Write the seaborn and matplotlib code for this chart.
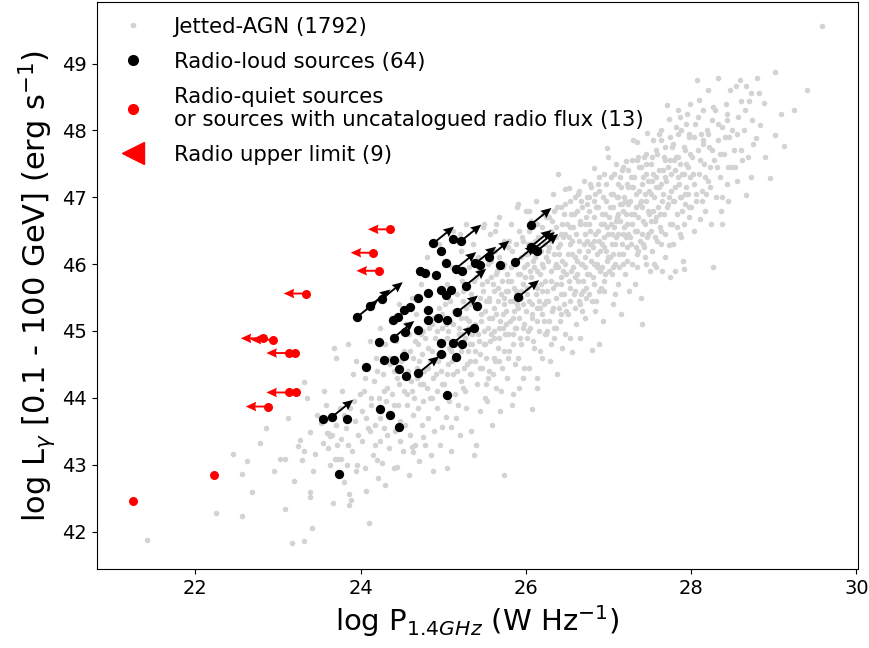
import numpy as np
import pandas as pd
import matplotlib
matplotlib.use("Agg")
import matplotlib.pyplot as plt
from matplotlib.lines import Line2D
import seaborn as sns

# jetted-AGN parent sample (log P_1.4GHz, log L_gamma): outskirts
jetted_pts = [
    (21.42, 41.88), (22.25, 42.28), (22.45, 43.16), (22.56, 42.86), (22.63, 43.05), (22.69, 42.59),
    (22.56, 42.24), (22.86, 43.55), (22.95, 42.9), (22.78, 43.32),
    (23.02, 43.09), (23.08, 43.09), (23.08, 42.34), (23.27, 43.37), (23.24, 43.28), (23.32, 43.21),
    (23.45, 43.16), (23.29, 43.07), (23.43, 42.91), (23.39, 42.59), (23.39, 42.52), (23.41, 42.06),
    (23.17, 41.83), (23.31, 41.86), (23.39, 43.49), (23.31, 44.23), (23.12, 43.7), (23.2, 42.75),
    (23.47, 43.75), (23.35, 44.0),
    (23.55, 43.33), (23.59, 43.47), (23.63, 43.43), (23.76, 43.39), (23.72, 43.29), (23.76, 43.09),
    (23.69, 43.09), (23.8, 42.74), (23.63, 43.0), (23.67, 42.43), (23.86, 42.56), (23.88, 42.47),
    (23.86, 42.4), (23.73, 43.09), (23.61, 43.48), (23.65, 43.44), (23.52, 43.62), (23.58, 43.9),
    (23.6, 43.25), (23.78, 44.1), (23.82, 43.55), (23.84, 43.0), (23.87, 43.85), (23.9, 43.2),
    (23.91, 44.35), (23.93, 43.65), (23.95, 42.9), (23.97, 43.45), (23.99, 44.05), (23.7, 44.6),
    (23.85, 44.8), (23.94, 44.55), (23.68, 44.75), (23.8, 43.75), (23.56, 44.1),
    (24.02, 43.35), (24.04, 44.1), (24.05, 42.95), (24.06, 42.6), (24.07, 43.7), (24.08, 44.45),
    (24.1, 42.13), (24.11, 43.5), (24.12, 44.85), (24.13, 43.9), (24.15, 43.15), (24.16, 44.25),
    (24.18, 43.6), (24.19, 44.6), (24.2, 43.07), (24.21, 42.8), (24.22, 44.0), (24.23, 43.35),
    (24.24, 45.05), (24.25, 43.8),
    (24.26, 43.03), (24.27, 44.35), (24.28, 43.55), (24.29, 44.8), (24.3, 42.7), (24.31, 43.95),
    (24.32, 44.15), (24.34, 43.25), (24.35, 44.6), (24.36, 43.75), (24.37, 45.15), (24.38, 44.05),
    (24.4, 42.95), (24.41, 44.4), (24.42, 43.5), (24.43, 44.85), (24.44, 42.96), (24.45, 43.9),
    (24.46, 44.2), (24.47, 45.4), (24.48, 43.65), (24.49, 44.55),
    (24.51, 43.2), (24.52, 44.1), (24.53, 44.7), (24.54, 43.6), (24.55, 45.1), (24.56, 43.9),
    (24.57, 44.4), (24.58, 42.85), (24.59, 44.95), (24.6, 43.45), (24.61, 44.25), (24.62, 45.5),
    (24.63, 43.75), (24.64, 44.6), (24.65, 44.0), (24.66, 43.3), (24.67, 45.25), (24.68, 44.45),
    (24.69, 43.85), (24.7, 44.8), (24.71, 43.05), (24.72, 44.2), (24.73, 45.7), (24.74, 43.6),
    (24.74, 44.65), (24.75, 45.0), (24.62, 43.27), (24.64, 43.19),
    (24.76, 43.95), (24.77, 44.4), (24.78, 43.3), (24.79, 45.3), (24.8, 44.15), (24.81, 44.75),
    (24.82, 43.7), (24.83, 45.55), (24.84, 44.55), (24.85, 43.14), (24.86, 44.0), (24.87, 45.1),
    (24.88, 44.3), (24.89, 43.5), (24.9, 44.9), (24.91, 45.8), (24.92, 44.1), (24.93, 43.85),
    (24.94, 44.65), (24.95, 45.35), (24.96, 43.3), (24.97, 44.4), (24.98, 45.05), (24.99, 43.57),
    (25.0, 44.8), (24.8, 46.1), (24.95, 46.3), (24.88, 42.9), (24.76, 43.42),
    (25.01, 44.2), (25.02, 45.4), (25.03, 43.72), (25.04, 44.9), (25.05, 45.7), (25.06, 44.5),
    (25.07, 43.95), (25.08, 45.15), (25.09, 44.7), (25.1, 43.2), (25.11, 45.95), (25.12, 44.35),
    (25.13, 45.3), (25.14, 44.05), (25.15, 44.85), (25.16, 43.7), (25.17, 45.55), (25.18, 44.6),
    (25.19, 45.05), (25.2, 43.45), (25.21, 44.25), (25.22, 46.2), (25.23, 44.95), (25.24, 45.45),
    (25.25, 44.45), (25.05, 42.95), (25.12, 46.5), (25.18, 43.9), (25.23, 45.75), (25.09, 43.57),
    (25.2, 46.45),
    (25.26, 44.1), (25.27, 45.2), (25.28, 43.85), (25.29, 45.65), (25.3, 44.7), (25.31, 45.95),
    (25.32, 44.35), (25.33, 45.4), (25.34, 43.5), (25.35, 44.95), (25.36, 46.3), (25.37, 43.14),
    (25.38, 45.1), (25.39, 44.55), (25.4, 45.8), (25.41, 44.2), (25.42, 46.1), (25.43, 44.85),
    (25.44, 45.5), (25.45, 43.8), (25.46, 45.25), (25.47, 44.45), (25.48, 46.55), (25.49, 45.0),
    (25.5, 44.0), (25.3, 45.05), (25.35, 44.8), (25.44, 44.65), (25.28, 46.6), (25.4, 43.3),
    (25.47, 45.7), (25.33, 44.55), (25.49, 46.6),
    (25.51, 44.8), (25.52, 45.45), (25.53, 43.95), (25.54, 46.0), (25.55, 44.4), (25.56, 45.2),
    (25.57, 46.45), (25.58, 44.95), (25.59, 43.6), (25.6, 45.7), (25.61, 44.6), (25.62, 45.35),
    (25.63, 46.2), (25.64, 44.15), (25.65, 45.9), (25.66, 44.75), (25.67, 45.05), (25.68, 46.7),
    (25.69, 43.8), (25.7, 45.55), (25.71, 44.45), (25.72, 45.25), (25.73, 42.84), (25.74, 46.35),
    (25.75, 44.95), (25.52, 44.2), (25.58, 45.8), (25.62, 44.9), (25.66, 45.65), (25.7, 44.1),
    (25.74, 45.4), (25.56, 45.5), (25.64, 46.6), (25.68, 44.55), (25.6, 44.35), (25.72, 45.95),
    (25.63, 46.5),
    (25.76, 45.1), (25.77, 44.3), (25.78, 45.75), (25.79, 46.25), (25.8, 44.7), (25.81, 45.45),
    (25.82, 46.6), (25.83, 43.9), (25.84, 45.2), (25.85, 44.95), (25.86, 46.0), (25.87, 44.5),
    (25.88, 45.6), (25.89, 46.85), (25.9, 45.35), (25.91, 46.9), (25.92, 44.15), (25.93, 45.85),
    (25.94, 44.8), (25.95, 46.4), (25.96, 45.05), (25.97, 45.7), (25.98, 44.45), (25.99, 46.15),
    (26.0, 46.8), (25.78, 44.6), (25.82, 45.95), (25.86, 45.3), (25.9, 44.6), (25.94, 45.5),
    (25.98, 45.95), (25.8, 46.35), (25.84, 44.05), (25.88, 45.05), (25.92, 46.5), (25.96, 44.3),
    (25.76, 45.6), (26.0, 45.3),
    (26.01, 44.9), (26.02, 45.55), (26.03, 46.3), (26.04, 44.45), (26.05, 45.9), (26.06, 46.65),
    (26.07, 45.2), (26.08, 43.83), (26.09, 46.05), (26.1, 44.75), (26.11, 45.7), (26.12, 46.95),
    (26.13, 45.35), (26.14, 44.3), (26.15, 46.4), (26.16, 45.0), (26.17, 45.85), (26.18, 46.2),
    (26.19, 44.6), (26.2, 45.6), (26.21, 46.75), (26.22, 45.15), (26.23, 44.95), (26.24, 46.1),
    (26.25, 45.45), (26.02, 46.0), (26.05, 45.05), (26.08, 45.4), (26.11, 46.35), (26.14, 45.65),
    (26.17, 44.7), (26.2, 46.0), (26.23, 45.75), (26.04, 46.8), (26.1, 45.95), (26.16, 45.45),
    (26.22, 46.45), (26.13, 44.15), (26.19, 45.25), (26.07, 46.2),
    (26.26, 45.0), (26.27, 46.05), (26.28, 46.7), (26.29, 44.55), (26.3, 45.75), (26.31, 46.35),
    (26.32, 45.3), (26.33, 47.05), (26.34, 44.9), (26.35, 45.95), (26.36, 46.55), (26.37, 45.5),
    (26.38, 44.35), (26.39, 47.35), (26.4, 46.15), (26.41, 45.15), (26.42, 46.85), (26.43, 45.7),
    (26.44, 44.75), (26.45, 46.4), (26.46, 45.4), (26.47, 46.0), (26.48, 47.13), (26.49, 45.85),
    (26.5, 46.6), (26.27, 45.45), (26.3, 46.5), (26.33, 45.65), (26.36, 45.05), (26.39, 46.25),
    (26.42, 45.55), (26.45, 45.9), (26.48, 44.95), (26.28, 46.25), (26.34, 46.8), (26.4, 45.35),
    (26.46, 46.75), (26.31, 44.8), (26.37, 46.0), (26.43, 46.45),
    (26.51, 45.25), (26.52, 47.14), (26.53, 46.3), (26.54, 44.9), (26.55, 45.9), (26.56, 44.69),
    (26.57, 46.55), (26.58, 45.55), (26.59, 47.0), (26.6, 46.1), (26.61, 45.1), (26.62, 46.8),
    (26.63, 45.75), (26.64, 46.35), (26.65, 45.4), (26.66, 44.89), (26.67, 46.95), (26.68, 46.0),
    (26.69, 45.6), (26.7, 47.25), (26.71, 46.45), (26.72, 45.2), (26.73, 46.7), (26.74, 45.85),
    (26.75, 46.2), (26.53, 45.65), (26.56, 46.15), (26.59, 45.35), (26.62, 46.05), (26.65, 46.6),
    (26.68, 45.3), (26.71, 45.95), (26.74, 46.9), (26.55, 46.75), (26.6, 45.8), (26.64, 47.1),
    (26.7, 46.3), (26.52, 46.4), (26.67, 45.55), (26.73, 45.5),
    (26.76, 45.55), (26.77, 46.6), (26.78, 47.2), (26.79, 46.05), (26.8, 44.72), (26.81, 45.8),
    (26.82, 47.43), (26.83, 46.35), (26.84, 45.3), (26.85, 46.85), (26.86, 45.95), (26.87, 46.5),
    (26.88, 44.8), (26.89, 47.1), (26.9, 46.2), (26.91, 45.65), (26.92, 46.75), (26.93, 45.15),
    (26.94, 47.35), (26.95, 46.4), (26.96, 45.85), (26.97, 46.95), (26.98, 47.74), (26.99, 46.1),
    (27.0, 47.6), (26.78, 46.3), (26.8, 45.45), (26.83, 46.95), (26.86, 46.15), (26.89, 45.6),
    (26.92, 46.3), (26.95, 45.6), (26.98, 46.55), (26.77, 47.0), (26.82, 46.0), (26.87, 47.2),
    (26.9, 45.9), (26.94, 46.6), (26.97, 46.2), (26.85, 45.45),
    (27.01, 45.9), (27.02, 46.85), (27.03, 47.3), (27.04, 46.3), (27.05, 45.4), (27.06, 47.05),
    (27.07, 46.55), (27.08, 46.0), (27.09, 47.5), (27.1, 46.7), (27.11, 45.7), (27.12, 47.2),
    (27.13, 46.15), (27.14, 46.9), (27.15, 45.25), (27.16, 47.4), (27.17, 46.45), (27.18, 46.0),
    (27.19, 47.0), (27.2, 45.85), (27.21, 47.54), (27.22, 46.6), (27.23, 46.25), (27.24, 47.15),
    (27.25, 45.6), (27.03, 46.6), (27.06, 45.95), (27.09, 46.4), (27.12, 46.75), (27.15, 47.15),
    (27.18, 46.8), (27.21, 46.4), (27.24, 46.9), (27.05, 46.15), (27.1, 47.0), (27.16, 46.3),
    (27.2, 46.95), (27.08, 45.55),
    (27.26, 46.4), (27.27, 47.3), (27.28, 46.0), (27.3, 47.86), (27.31, 46.75), (27.32, 45.7),
    (27.33, 47.05), (27.34, 46.5), (27.35, 47.83), (27.36, 46.2), (27.37, 47.45), (27.38, 46.9),
    (27.39, 45.5), (27.4, 45.11), (27.41, 47.2), (27.42, 46.65), (27.43, 47.6), (27.44, 46.1),
    (27.45, 46.95), (27.46, 47.35), (27.47, 47.96), (27.48, 46.45), (27.49, 47.1), (27.5, 45.9),
    (27.27, 46.75), (27.3, 47.15), (27.33, 46.25), (27.36, 47.6), (27.39, 46.95), (27.42, 46.3),
    (27.45, 47.65), (27.48, 46.8), (27.28, 47.55), (27.34, 45.95), (27.4, 46.45), (27.46, 46.0),
    (27.51, 46.65), (27.52, 47.5), (27.53, 46.2), (27.54, 47.85), (27.55, 47.0), (27.56, 46.4),
    (27.57, 47.3), (27.58, 45.95), (27.59, 47.65), (27.6, 46.85), (27.61, 47.15), (27.62, 46.55),
    (27.63, 48.0), (27.64, 46.3), (27.65, 45.9), (27.66, 47.4), (27.67, 46.75), (27.68, 47.75),
    (27.69, 46.1), (27.7, 47.25), (27.71, 48.38), (27.72, 46.9), (27.73, 46.28), (27.73, 48.17),
    (27.74, 47.55), (27.75, 45.8), (27.53, 47.25), (27.57, 46.7), (27.61, 47.95), (27.65, 46.95),
    (27.69, 47.55), (27.55, 46.0),
    (27.76, 47.1), (27.77, 46.6), (27.78, 47.8), (27.79, 46.95), (27.8, 47.4), (27.81, 45.9),
    (27.82, 48.05), (27.83, 46.75), (27.84, 47.6), (27.85, 47.2), (27.86, 46.45), (27.87, 48.2),
    (27.88, 46.41), (27.89, 47.35), (27.9, 46.04), (27.91, 45.93), (27.92, 47.75), (27.93, 46.9),
    (27.94, 47.5), (27.95, 48.25), (27.96, 47.05), (27.97, 46.7), (27.98, 47.9), (27.99, 47.3),
    (28.0, 46.85), (27.78, 46.3), (27.84, 48.3), (27.88, 47.0), (27.93, 47.05), (27.99, 48.4),
    (28.01, 47.6), (28.03, 46.49), (28.04, 47.2), (28.05, 48.1), (28.06, 46.95), (28.08, 47.7),
    (28.09, 48.45), (28.1, 47.35), (28.11, 46.68), (28.12, 47.95), (28.13, 47.1), (28.15, 48.3),
    (28.16, 47.5), (28.17, 46.8), (28.19, 48.0), (28.2, 47.25), (28.21, 48.6), (28.22, 47.75),
    (28.24, 46.6), (28.25, 48.15), (28.07, 48.75), (28.14, 47.8), (28.18, 47.05), (28.23, 47.45),
    (28.27, 45.96), (28.28, 47.55), (28.29, 48.3), (28.3, 47.0), (28.32, 48.78), (28.33, 47.85),
    (28.35, 47.3), (28.37, 48.05), (28.38, 46.6), (28.4, 47.65), (28.42, 48.4), (28.43, 47.2),
    (28.45, 46.95), (28.46, 47.9), (28.47, 48.6), (28.48, 47.45), (28.36, 46.8), (28.44, 48.15),
    (28.52, 47.7), (28.54, 48.66), (28.55, 47.25), (28.57, 48.2), (28.59, 48.75), (28.6, 48.44),
    (28.62, 47.55), (28.64, 48.0), (28.66, 48.66), (28.67, 47.04), (28.7, 48.44), (28.72, 47.3),
    (28.72, 48.56), (28.75, 47.8), (28.78, 47.89), (28.8, 48.78), (28.82, 48.56), (28.83, 48.08),
    (28.88, 48.41), (28.96, 47.29), (28.9, 47.6),
    (29.02, 48.87), (29.02, 47.93), (29.09, 48.24), (29.13, 47.76), (29.4, 48.6), (29.59, 49.56),
    (29.25, 48.3),
]

# jetted-AGN: the crowded core of the band
jetted_core = [
    (23.6, 43.7), (23.7, 43.6), (23.75, 43.85), (23.85, 43.3), (23.92, 43.95), (23.96, 43.0),
    (24.02, 43.8), (24.05, 44.3), (24.09, 43.55), (24.13, 44.0), (24.17, 43.3), (24.2, 44.4),
    (24.24, 43.7), (24.28, 44.1), (24.32, 43.45), (24.36, 44.5), (24.4, 43.9), (24.44, 44.3),
    (24.48, 43.35), (24.52, 44.65), (24.56, 44.05),
    (24.6, 44.7), (24.62, 44.1), (24.66, 44.85), (24.68, 44.3), (24.71, 44.55), (24.73, 44.95),
    (24.76, 44.2), (24.78, 44.9), (24.81, 44.45), (24.83, 45.05), (24.84, 44.0), (24.86, 44.7),
    (24.88, 45.2), (24.91, 44.35), (24.93, 45.0), (24.94, 44.55), (24.96, 44.85), (24.98, 45.25),
    (24.99, 44.2), (25.01, 44.65), (25.03, 45.1), (25.04, 44.35), (25.06, 45.0), (25.07, 44.75),
    (25.08, 45.45), (25.11, 44.55), (25.12, 45.1), (25.14, 44.8), (25.16, 45.3), (25.17, 44.4),
    (25.19, 44.95), (25.21, 45.2), (25.22, 44.7), (25.24, 45.6), (25.24, 44.15), (25.26, 44.9),
    (25.27, 45.35), (25.29, 44.5), (25.31, 45.15), (25.32, 44.8), (25.34, 45.55), (25.34, 44.35),
    (25.36, 45.0), (25.37, 45.75), (25.39, 44.7), (25.41, 45.35), (25.42, 44.95), (25.43, 45.9),
    (25.44, 44.45), (25.46, 45.15), (25.48, 45.6), (25.49, 44.8),
    (25.51, 45.3), (25.52, 44.6), (25.53, 45.75), (25.54, 45.05), (25.54, 44.3), (25.56, 45.45),
    (25.57, 44.85), (25.58, 46.05), (25.59, 45.2), (25.61, 45.6), (25.62, 45.0), (25.63, 44.55),
    (25.64, 45.85), (25.64, 45.25), (25.66, 45.45), (25.67, 44.9), (25.68, 46.1), (25.69, 45.15),
    (25.71, 45.75), (25.72, 45.05), (25.73, 44.7), (25.74, 45.5), (25.74, 46.0), (25.76, 45.3),
    (25.77, 45.85), (25.78, 44.95), (25.79, 45.6), (25.81, 45.15), (25.82, 45.75), (25.83, 46.2),
    (25.84, 44.8), (25.84, 45.45), (25.86, 45.65), (25.87, 45.05), (25.88, 46.3), (25.89, 45.4),
    (25.91, 45.85), (25.92, 45.2), (25.93, 44.9), (25.94, 46.1), (25.94, 45.6), (25.96, 45.4),
    (25.97, 46.35), (25.98, 45.1), (25.99, 45.8),
    (26.01, 45.65), (26.02, 46.15), (26.03, 45.0), (26.04, 45.45), (26.04, 46.5), (26.06, 45.8),
    (26.07, 45.25), (26.08, 46.3), (26.09, 44.85), (26.11, 46.1), (26.12, 45.55), (26.13, 46.6),
    (26.14, 45.15), (26.14, 45.9), (26.16, 46.25), (26.17, 45.35), (26.18, 45.7), (26.19, 46.55),
    (26.21, 45.95), (26.22, 45.4), (26.23, 46.3), (26.24, 44.95), (26.24, 46.7), (26.26, 45.6),
    (26.27, 46.2), (26.28, 45.15), (26.29, 46.45), (26.31, 45.9), (26.32, 46.65), (26.33, 45.35),
    (26.34, 46.15), (26.34, 45.05), (26.36, 46.4), (26.37, 45.7), (26.38, 46.85), (26.39, 45.95),
    (26.41, 46.3), (26.42, 45.8), (26.43, 45.25), (26.44, 46.6), (26.44, 46.05), (26.46, 45.55),
    (26.47, 46.45), (26.48, 46.9), (26.49, 45.3),
    (26.51, 46.15), (26.52, 45.75), (26.53, 46.55), (26.54, 45.45), (26.54, 46.95), (26.56, 46.35),
    (26.57, 45.95), (26.58, 46.75), (26.59, 45.6), (26.61, 46.45), (26.62, 45.85), (26.63, 47.05),
    (26.64, 46.2), (26.64, 45.45), (26.66, 46.65), (26.67, 46.0), (26.68, 46.85), (26.69, 45.75),
    (26.71, 46.6), (26.72, 46.1), (26.73, 45.65), (26.74, 47.0), (26.74, 46.35), (26.76, 46.8),
    (26.77, 45.85), (26.78, 46.5), (26.79, 47.15), (26.81, 46.25), (26.82, 46.7), (26.83, 45.7),
    (26.84, 47.05), (26.84, 46.45), (26.86, 46.0), (26.87, 46.85), (26.88, 47.3), (26.89, 46.35),
    (26.91, 46.6), (26.92, 45.95), (26.93, 47.0), (26.94, 46.25), (26.94, 45.75), (26.96, 46.75),
    (26.97, 47.2), (26.98, 46.05), (26.99, 46.45),
    (27.01, 46.7), (27.02, 46.1), (27.03, 47.05), (27.04, 45.85), (27.04, 46.45), (27.06, 46.85),
    (27.07, 47.35), (27.08, 46.3), (27.09, 46.65), (27.11, 46.45), (27.12, 47.0), (27.13, 45.95),
    (27.14, 47.3), (27.14, 46.65), (27.16, 46.9), (27.17, 46.15), (27.18, 47.45), (27.19, 46.55),
    (27.21, 46.75), (27.22, 47.2), (27.23, 46.05), (27.24, 46.45), (27.24, 47.4), (27.26, 46.95),
    (27.27, 46.3), (27.28, 47.15), (27.29, 46.6), (27.31, 47.3), (27.32, 46.5), (27.33, 46.85),
    (27.34, 47.55), (27.34, 46.15), (27.36, 46.7), (27.37, 47.1), (27.38, 46.35), (27.39, 47.45),
    (27.41, 46.85), (27.42, 47.3), (27.43, 46.25), (27.44, 47.05), (27.44, 46.6), (27.46, 47.5),
    (27.47, 46.4), (27.48, 47.25), (27.49, 46.75),
    (27.51, 47.05), (27.52, 46.5), (27.53, 47.6), (27.54, 46.8), (27.54, 47.35), (27.56, 46.65),
    (27.57, 47.15), (27.58, 47.7), (27.59, 46.35), (27.61, 47.4), (27.62, 46.75), (27.63, 47.2),
    (27.64, 46.5), (27.64, 47.85), (27.66, 47.05), (27.67, 47.6), (27.68, 46.45), (27.69, 47.3),
    (27.71, 46.85), (27.72, 47.45), (27.73, 47.0), (27.74, 47.9), (27.74, 46.6), (27.76, 47.35),
    (27.77, 47.75), (27.78, 46.95), (27.79, 47.55), (27.81, 47.15), (27.82, 47.6), (27.83, 46.55),
    (27.84, 47.95), (27.84, 47.3), (27.86, 47.0), (27.87, 47.5), (27.88, 48.0), (27.89, 46.8),
    (27.91, 47.35), (27.92, 46.6), (27.93, 47.7), (27.94, 47.15), (27.94, 48.1), (27.96, 47.45),
    (27.97, 47.95), (27.98, 46.85), (27.99, 47.65),
    (28.02, 47.35), (28.04, 47.9), (28.06, 47.05), (28.08, 48.2), (28.11, 47.55), (28.13, 46.95),
    (28.15, 47.85), (28.17, 47.3), (28.21, 47.95), (28.23, 47.15), (28.25, 47.7), (28.27, 48.35),
    (28.31, 47.45), (28.33, 48.1), (28.35, 47.65), (28.37, 47.0), (28.41, 47.9), (28.43, 48.25),
    (28.45, 47.45), (28.49, 48.0), (28.53, 47.45), (28.56, 47.95), (28.6, 47.7), (28.65, 48.3),
    (28.69, 47.6), (28.74, 48.15),
]

# radio-loud sources (64); loud_lim = 1 where a lower-limit arrow is drawn
loud_logP = [26.06, 25.12, 24.88, 26.06, 26.10, 26.14, 25.87, 25.55, 25.45, 24.72, 24.78, 25.91, 24.26,
             24.11, 23.96, 24.82, 24.97, 25.03, 24.69, 24.45, 24.52, 24.60, 24.39, 24.82, 24.81, 24.94,
             25.05, 25.17, 25.41, 24.40, 24.54, 24.69, 24.22, 25.37, 24.97, 25.12, 25.23, 24.97, 25.15,
             24.28, 24.40, 24.52, 24.06, 24.46, 24.55, 24.70, 25.05, 23.55, 23.66, 23.83, 24.23, 24.36,
             24.46, 23.74, 25.03, 25.15, 25.23, 24.91, 25.09, 25.27, 25.39, 24.97, 25.21, 25.69]
loud_logL = [46.59, 46.38, 46.31, 46.26, 46.23, 46.20, 46.03, 46.10, 45.98, 45.90, 45.86, 45.51, 45.48,
             45.37, 45.21, 45.57, 45.61, 45.54, 45.49, 45.21, 45.31, 45.36, 45.16, 45.31, 45.17, 45.20,
             45.17, 45.28, 45.37, 44.90, 44.99, 45.02, 44.83, 45.05, 44.82, 44.82, 44.81, 44.65, 44.61,
             44.56, 44.56, 44.62, 44.46, 44.43, 44.33, 44.37, 44.04, 43.69, 43.72, 43.69, 43.84, 43.75,
             43.57, 42.86, 46.02, 45.93, 45.90, 45.83, 45.61, 45.68, 46.01, 46.20, 46.34, 45.98]
loud_lim = [1, 0, 1, 1, 1, 1, 1, 1, 0, 0, 0, 1, 1,
            1, 1, 0, 0, 0, 0, 0, 0, 0, 0, 0, 0, 0,
            0, 1, 0, 1, 0, 0, 0, 0, 0, 1, 0, 0, 0,
            0, 0, 0, 0, 0, 0, 1, 0, 0, 1, 0, 0, 0,
            0, 0, 0, 1, 0, 0, 0, 1, 1, 0, 1, 0]

# radio-quiet / uncatalogued sources (13); quiet_lim = 1 for radio upper limits
quiet_logP = [24.36, 24.15, 24.22, 23.34, 22.82, 22.94, 23.13, 23.21, 23.13, 23.22, 22.88, 22.22, 21.24]
quiet_logL = [46.52, 46.17, 45.90, 45.56, 44.89, 44.87, 44.67, 44.67, 44.08, 44.08, 43.87, 42.84, 42.45]
quiet_lim = [1, 1, 1, 1, 1, 1, 1, 0, 1, 0, 1, 0, 0]

jetted = pd.DataFrame(jetted_pts + jetted_core, columns=["logP", "logL"])
loud = pd.DataFrame({"logP": loud_logP, "logL": loud_logL, "lim": loud_lim})
quiet = pd.DataFrame({"logP": quiet_logP, "logL": quiet_logL, "lim": quiet_lim})

fig = plt.figure(figsize=(8.69, 6.48), dpi=100)
ax = fig.add_axes([97 / 869, 1 - 569 / 648, 761 / 869, 567 / 648])

sns.scatterplot(data=jetted, x="logP", y="logL", color="lightgray", s=16, linewidth=0, ax=ax, zorder=1)
sns.scatterplot(data=loud, x="logP", y="logL", color="black", s=45, linewidth=0, ax=ax, zorder=3)
sns.scatterplot(data=quiet, x="logP", y="logL", color="red", s=42, linewidth=0, ax=ax, zorder=3)

up = loud[loud["lim"] == 1]
ax.quiver(up["logP"], up["logL"], np.full(len(up), 0.25), np.full(len(up), 0.25),
          angles="xy", scale_units="xy", scale=1, color="black", width=0.0025,
          headwidth=5, headlength=5.5, headaxislength=5, zorder=4)
lt = quiet[quiet["lim"] == 1]
ax.quiver(lt["logP"], lt["logL"], np.full(len(lt), -0.27), np.zeros(len(lt)),
          angles="xy", scale_units="xy", scale=1, color="red", width=0.0025,
          headwidth=5, headlength=5.5, headaxislength=5, zorder=4)

ax.set_xlim(20.81, 30.02)
ax.set_ylim(41.44, 49.92)
ax.set_xticks([22, 24, 26, 28, 30])
ax.set_yticks(range(42, 50))
ax.tick_params(labelsize=14)
ax.set_xlabel(r"log P$_{1.4GHz}$ (W Hz$^{-1}$)", fontsize=21)
ax.set_ylabel(r"log L$_{\gamma}$ [0.1 - 100 GeV] (erg s$^{-1}$)", fontsize=22)

handles = [
    Line2D([], [], ls="", marker="o", color="lightgray", markersize=3),
    Line2D([], [], ls="", marker="o", color="black", markersize=7),
    Line2D([], [], ls="", marker="o", color="red", markersize=7),
    Line2D([], [], ls="", marker="<", color="red", markersize=16),
]
labels = ["Jetted-AGN (1792)", "Radio-loud sources (64)",
          "Radio-quiet sources\nor sources with uncatalogued radio flux (13)", "Radio upper limit (9)"]
ax.legend(handles, labels, loc="upper left", frameon=False, fontsize=15.3, labelspacing=0.7,
          handletextpad=0.9, borderaxespad=0.3)

fig.savefig("out.png", dpi=100)
